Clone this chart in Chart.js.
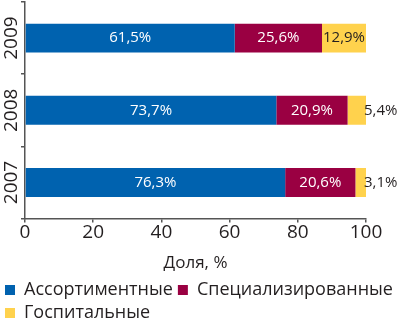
<!DOCTYPE html>
<html>
<head>
<meta charset="utf-8">
<script src="https://cdn.jsdelivr.net/npm/chart.js@4/dist/chart.umd.min.js"></script>
<style>
    html, body { margin: 0; padding: 0; background: #fff; }
    #wrap { width: 400px; height: 329px; }
</style>
</head>
<body>
<div id="wrap"><canvas id="shareChart" width="400" height="329"></canvas></div>
<script>
// Données du graphique (parts en %)
const years = ['2009', '2008', '2007'];
const assortiment = [61.5, 73.7, 76.3];
const specialises = [25.6, 20.9, 20.6];
const hospitaliers = [12.9, 5.4, 3.1];
const seriesNames = ['Ассортиментные', 'Специализированные', 'Госпитальные'];
const xTicks = [0, 20, 40, 60, 80, 100];

const FONT = '"Open Sans", "Noto Sans", sans-serif';
const TEXT = '#231f20';

/**
 * Écrit les valeurs sur chaque segment de barre
 */
const barLabels = {
    id: 'barLabels',
    afterDatasetsDraw(chart) {
        const ctx = chart.ctx;
        ctx.save();
        ctx.font = '15px ' + FONT;
        ctx.textBaseline = 'middle';
        chart.data.datasets.forEach((ds, i) => {
            const meta = chart.getDatasetMeta(i);
            meta.data.forEach((bar, j) => {
                const value = ds.data[j];
                const text = value.toFixed(1).replace('.', ',') + '%';
                const left = bar.base;
                const right = bar.x;
                const w = ctx.measureText(text).width;
                if (i === 2 && right - left < w * 0.8) {
                    // segment trop étroit : valeur à droite de la barre
                    ctx.fillStyle = TEXT;
                    ctx.textAlign = 'left';
                    ctx.fillText(text, right - 2, bar.y);
                } else {
                    ctx.fillStyle = i === 2 ? TEXT : '#ffffff';
                    ctx.textAlign = 'center';
                    ctx.fillText(text, (left + right) / 2, bar.y);
                }
            });
        });
        ctx.restore();
    }
};

const ctx = document.getElementById('shareChart').getContext('2d');
new Chart(ctx, {
    type: 'bar',
    data: {
        labels: years,
        datasets: [{
            label: seriesNames[0],
            data: assortiment,
            backgroundColor: '#0062af'
        }, {
            label: seriesNames[1],
            data: specialises,
            backgroundColor: '#9a0042'
        }, {
            label: seriesNames[2],
            data: hospitaliers,
            backgroundColor: '#ffd24d'
        }]
    },
    options: {
        indexAxis: 'y',
        responsive: false,
        animation: false,
        devicePixelRatio: 1,
        layout: {
            padding: { left: 0, right: 0, top: 2, bottom: -3 }
        },
        datasets: {
            bar: {
                barPercentage: 0.4,
                categoryPercentage: 1.0,
                borderWidth: 0
            }
        },
        scales: {
            x: {
                stacked: true,
                min: 0,
                max: 100,
                afterBuildTicks: function (axis) {
                    axis.ticks = xTicks.map(v => ({ value: v }));
                },
                border: { color: '#555', width: 1.5 },
                grid: {
                    drawOnChartArea: false,
                    tickLength: 4,
                    color: '#555',
                    lineWidth: 1.5
                },
                ticks: {
                    color: TEXT,
                    padding: 0,
                    font: { family: FONT, size: 19, lineHeight: 1 }
                },
                title: {
                    display: true,
                    text: 'Доля, %',
                    color: TEXT,
                    padding: { top: 11, bottom: 3 },
                    font: { family: FONT, size: 17 }
                }
            },
            y: {
                stacked: true,
                border: { color: '#555', width: 1.5 },
                grid: {
                    offset: true,
                    drawOnChartArea: false,
                    tickLength: 4,
                    color: '#555',
                    lineWidth: 1.5
                },
                ticks: {
                    color: TEXT,
                    padding: -12,
                    crossAlign: 'center',
                    minRotation: 90,
                    maxRotation: 90,
                    font: { family: FONT, size: 19 }
                },
                afterFit: function (axis) {
                    axis.width = 25;
                    axis.paddingTop = 0;
                    axis.paddingBottom = 0;
                }
            },
            // axe vide à droite : réserve la marge pour les valeurs hors barre
            marge: {
                type: 'linear',
                position: 'right',
                display: true,
                grid: { display: false },
                border: { display: false },
                ticks: { display: false },
                afterFit: function (axis) {
                    axis.width = 34;
                }
            }
        },
        plugins: {
            legend: {
                position: 'bottom',
                align: 'start',
                labels: {
                    color: TEXT,
                    boxWidth: 10,
                    boxHeight: 10,
                    padding: 5,
                    font: { family: FONT, size: 18 }
                }
            },
            tooltip: { enabled: false }
        }
    },
    plugins: [barLabels]
});
</script>
</body>
</html>
